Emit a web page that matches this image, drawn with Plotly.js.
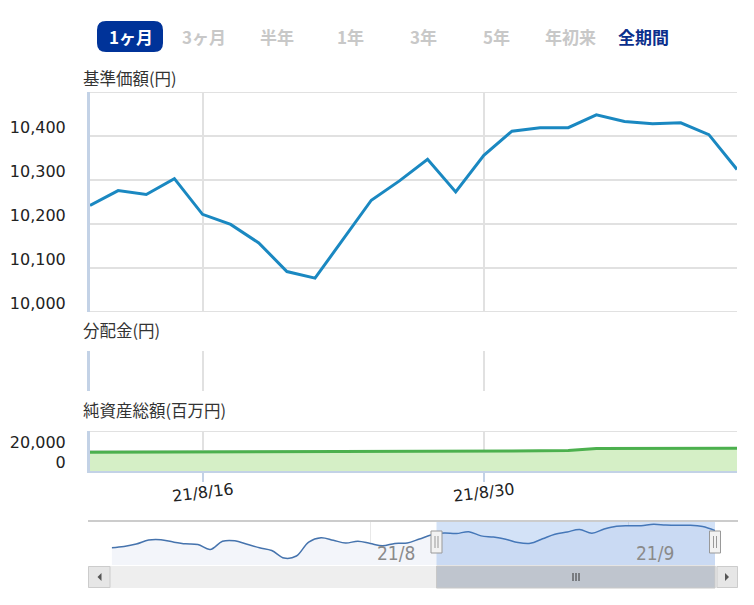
<!DOCTYPE html>
<html><head><meta charset="utf-8">
<script src="https://cdn.plot.ly/plotly-3.0.1.min.js"></script>
<style>html,body{margin:0;padding:0;background:#fff}#chart{width:754px;height:605px}</style>
</head><body><div id="chart"></div>
<script>
// ---- data ----
const dates = ['21/8/10','21/8/11','21/8/12','21/8/13','21/8/16','21/8/17','21/8/18','21/8/19','21/8/20','21/8/23','21/8/24','21/8/25','21/8/26','21/8/27','21/8/30','21/8/31','21/9/1','21/9/2','21/9/3','21/9/6','21/9/7','21/9/8','21/9/9','21/9/10'];
const navPrice = [10242,10276,10267,10303,10222,10199,10157,10092,10077,10166,10254,10298,10347,10273,10356,10411,10419,10419,10448,10433,10428,10430,10403,10324];
const distribution = [null,null,null,null,null,null,null,null,null,null,null,null,null,null,null,null,null,null,null,null,null,null,null,null];
const netAssets = [18700,18750,18800,18850,18900,18950,19000,19050,19100,19200,19350,19500,19650,19700,19900,20100,20300,20600,22400,22500,22600,22600,22700,22700];
const histDates = ['21/6/30','21/7/1','21/7/2','21/7/5','21/7/6','21/7/7','21/7/8','21/7/9','21/7/12','21/7/13','21/7/14','21/7/15','21/7/16','21/7/19','21/7/20','21/7/21','21/7/26','21/7/27','21/7/28','21/7/29','21/7/30','21/8/2','21/8/3','21/8/4','21/8/5','21/8/6'];
const histPrice = [9991,10015,10063,10141,10147,10102,10067,10054,9956,10116,10126,10059,9991,9937,9790,9829,10102,10186,10136,10083,10118,10073,10028,10075,10083,10161];
const priceTicks = [10000,10100,10200,10300,10400,10500];
const priceTickText = ['10,000','10,100','10,200','10,300','10,400',''];
const assetTicks = [0,20000,40000];
const assetTickText = ['0','20,000',''];
const xTickDates = ['21/8/16','21/8/30'];
const navTickDates = ['21/8/2','21/9/1'];
const navTickText = ['21/8','21/9'];
const rangeButtons = ['1ヶ月','3ヶ月','半年','1年','3年','5年','年初来','全期間'];
const panelTitles = ['基準価額(円)','分配金(円)','純資産総額(百万円)'];

const W = 754, H = 605;
const px = x => x / W;
const py = y => 1 - y / H;
const navDates = histDates.concat(dates);
const navAll = histPrice.concat(navPrice);

const numFont = {family: 'DejaVu Sans, sans-serif', size: 16, color: '#222'};
const jpFont = 'Noto Sans CJK JP, sans-serif';
const gridC = '#e1e1e1';
const axisC = '#c3d2e6';

const traces = [
  {x: dates, y: navPrice, type: 'scatter', mode: 'lines', xaxis: 'x', yaxis: 'y',
   line: {color: '#1a88c1', width: 3}, hoverinfo: 'x+y', showlegend: false},
  {x: dates, y: distribution, type: 'bar', xaxis: 'x', yaxis: 'y2', marker: {color: '#1a88c1'}, showlegend: false},
  {x: dates, y: netAssets, type: 'scatter', mode: 'lines', xaxis: 'x', yaxis: 'y3',
   fill: 'tozeroy', fillcolor: '#d5efc6', line: {color: '#4cb04e', width: 3}, showlegend: false},
  {x: navDates, y: navAll, type: 'scatter', mode: 'lines', xaxis: 'x4', yaxis: 'y4',
   fill: 'tozeroy', fillcolor: '#f3f5fa', line: {color: '#4573ad', width: 1.5, shape: 'spline'}, showlegend: false, hoverinfo: 'skip'}
];

const xdom = [px(90), px(737)];
const layout = {
  width: W, height: H, autosize: false,
  margin: {l: 0, r: 0, t: 0, b: 0},
  paper_bgcolor: '#fff', plot_bgcolor: 'rgba(0,0,0,0)',
  showlegend: false,
  xaxis: {domain: xdom, anchor: 'y3', type: 'category', categoryorder: 'array', categoryarray: dates,
    range: [0, dates.length - 1], tickmode: 'array', tickvals: xTickDates, showticklabels: false,
    showgrid: true, gridcolor: gridC, gridwidth: 2, ticks: 'outside', ticklen: 9, tickcolor: axisC, tickwidth: 2,
    showline: true, linecolor: axisC, linewidth: 2, zeroline: false, fixedrange: true},
  yaxis: {domain: [py(312), py(92)], anchor: 'x', range: [10000, 10500], tickmode: 'array',
    tickvals: priceTicks, ticktext: priceTickText, tickfont: numFont, ticklabelshift: -9, ticklabelstandoff: 18,
    showgrid: true, gridcolor: gridC, gridwidth: 2, zeroline: false,
    showline: true, linecolor: axisC, linewidth: 3, fixedrange: true},
  yaxis2: {domain: [py(391), py(351)], anchor: 'x', range: [0, 1], showgrid: false, showticklabels: false,
    zeroline: false, showline: true, linecolor: axisC, linewidth: 3, fixedrange: true},
  yaxis3: {domain: [py(471), py(431)], anchor: 'x', range: [0, 40000], tickmode: 'array',
    tickvals: assetTicks, ticktext: assetTickText, tickfont: numFont, ticklabelshift: -9, ticklabelstandoff: 18,
    showgrid: true, gridcolor: gridC, gridwidth: 2, zeroline: false,
    showline: true, linecolor: axisC, linewidth: 3, fixedrange: true},
  xaxis4: {domain: [px(111.7), px(715)], anchor: 'y4', type: 'category', categoryorder: 'array', categoryarray: navDates,
    range: [0, navDates.length - 1], tickmode: 'array', tickvals: navTickDates, showticklabels: false,
    showgrid: true, gridcolor: '#e8e8e8', gridwidth: 1, ticks: '', zeroline: false, showline: false, fixedrange: true},
  yaxis4: {domain: [py(565), py(521)], anchor: 'x4', range: [9654, 10512], showgrid: false, showticklabels: false,
    zeroline: false, showline: false, fixedrange: true},
  shapes: [],
  annotations: []
};

// boundary grid lines (drawn on the axis edges)
[10000, 10500].forEach(v => layout.shapes.push({type: 'line', xref: 'paper', yref: 'y', x0: px(90), x1: px(737), y0: v, y1: v,
  line: {color: gridC, width: 2}, layer: 'below'}));
layout.shapes.push({type: 'line', xref: 'paper', yref: 'y3', x0: px(90), x1: px(737), y0: 40000, y1: 40000,
  line: {color: gridC, width: 2}, layer: 'below'});

// range selector buttons
function rr(x0, y0, x1, y1, r) {
  const X = v => px(v).toFixed(5), Y = v => py(v).toFixed(5);
  return `M${X(x0+r)},${Y(y0)} L${X(x1-r)},${Y(y0)} Q${X(x1)},${Y(y0)} ${X(x1)},${Y(y0+r)} L${X(x1)},${Y(y1-r)} Q${X(x1)},${Y(y1)} ${X(x1-r)},${Y(y1)} L${X(x0+r)},${Y(y1)} Q${X(x0)},${Y(y1)} ${X(x0)},${Y(y1-r)} L${X(x0)},${Y(y0+r)} Q${X(x0)},${Y(y0)} ${X(x0+r)},${Y(y0)} Z`;
}
layout.shapes.push({type: 'path', xref: 'paper', yref: 'paper', path: rr(97, 21, 163, 52, 9),
  fillcolor: '#003399', line: {width: 0}});
rangeButtons.forEach((t, i) => {
  const col = i === 0 ? '#ffffff' : (i === rangeButtons.length - 1 ? '#0b2f8c' : '#c8c8c8');
  layout.annotations.push({text: '<b>' + t + '</b>', xref: 'paper', yref: 'paper', x: px(130.8 + 73.2 * i), y: py(36.5),
    xanchor: 'center', yanchor: 'middle', showarrow: false, font: {family: jpFont, size: 17, color: col}});
});

// panel titles
[78, 330, 410].forEach((yy, i) => {
  layout.annotations.push({text: panelTitles[i], xref: 'paper', yref: 'paper', x: px(81), y: py(yy),
    xanchor: 'left', yanchor: 'middle', showarrow: false, font: {family: jpFont, size: 16.5, color: '#333'}});
});

// x tick labels (slightly rotated)
xTickDates.forEach(d => {
  layout.annotations.push({text: d, xref: 'x', yref: 'paper', x: d, y: py(492), xanchor: 'center', yanchor: 'middle',
    textangle: -7, showarrow: false, font: numFont});
});
// navigator tick labels
navTickDates.forEach((d, i) => {
  layout.annotations.push({text: navTickText[i], xref: 'x4', yref: 'paper', x: d, y: py(553), xanchor: 'left', yanchor: 'middle',
    xshift: 5, showarrow: false, font: {family: 'Liberation Sans Narrow, DejaVu Sans Condensed, sans-serif', size: 19, color: '#8a8a8a'}});
});

// navigator decorations
const L = (x0, y0, x1, y1, c, w) => ({type: 'line', xref: 'paper', yref: 'paper', x0: px(x0), y0: py(y0), x1: px(x1), y1: py(y1), line: {color: c, width: w}});
const R = (x0, y0, x1, y1, f, c, w) => ({type: 'rect', xref: 'paper', yref: 'paper', x0: px(x0), y0: py(y0), x1: px(x1), y1: py(y1), fillcolor: f, line: {color: c, width: w}});
layout.shapes.push({type: 'rect', xref: 'paper', yref: 'paper', x0: px(436.5), x1: px(715), y0: py(565), y1: py(521),
  fillcolor: 'rgba(70,135,220,0.24)', line: {width: 0}, layer: 'above'});
layout.shapes.push(L(88, 521, 738, 521, '#cccccc', 2));
// scrollbar
layout.shapes.push(R(88, 566, 738, 588, '#eeeeee', '#eeeeee', 0));
layout.shapes.push(R(436.5, 566, 715, 588, '#bfc5ce', '#c8c8c8', 1));
layout.shapes.push(L(573, 573, 573, 581, '#333', 1));
layout.shapes.push(L(576, 573, 576, 581, '#333', 1));
layout.shapes.push(L(579, 573, 579, 581, '#333', 1));
layout.shapes.push(R(88.5, 566.5, 110, 587.5, '#e6e6e6', '#cccccc', 1));
layout.shapes.push(R(717, 566.5, 737.5, 587.5, '#e6e6e6', '#cccccc', 1));
layout.shapes.push({type: 'path', xref: 'paper', yref: 'paper',
  path: `M${px(101.5)},${py(573)} L${px(101.5)},${py(581)} L${px(97.5)},${py(577)} Z`, fillcolor: '#555', line: {width: 0}});
layout.shapes.push({type: 'path', xref: 'paper', yref: 'paper',
  path: `M${px(725)},${py(573)} L${px(725)},${py(581)} L${px(729)},${py(577)} Z`, fillcolor: '#555', line: {width: 0}});
// handles
[436.5, 715].forEach(cx => {
  layout.shapes.push(R(cx - 5.5, 531, cx + 5.5, 553, '#f2f2f2', '#999999', 1));
  layout.shapes.push(L(cx - 1.5, 536, cx - 1.5, 548, '#999', 1));
  layout.shapes.push(L(cx + 1.5, 536, cx + 1.5, 548, '#999', 1));
});

Plotly.newPlot('chart', traces, layout, {displayModeBar: false, staticPlot: true});
</script>
</body></html>
